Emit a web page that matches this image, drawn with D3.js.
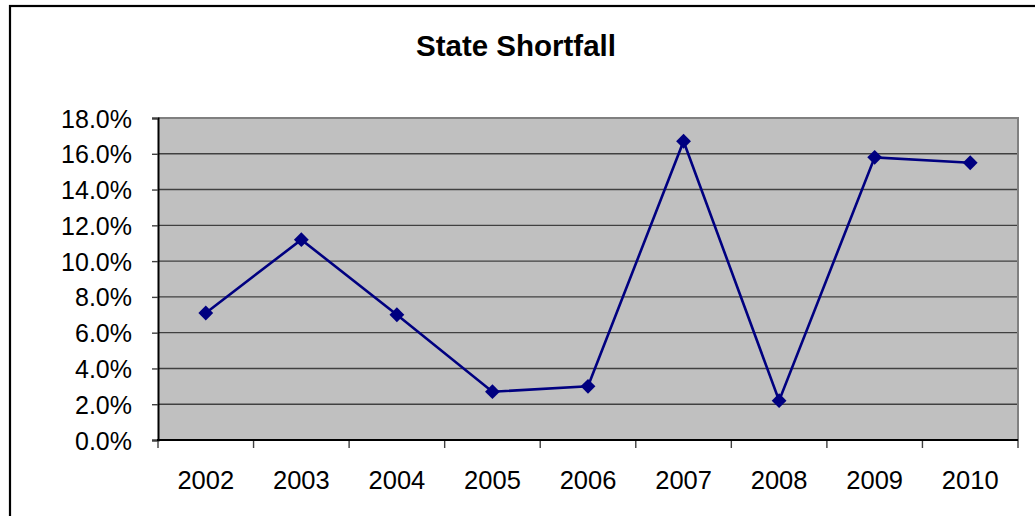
<!DOCTYPE html>
<html>
<head>
<meta charset="utf-8">
<script src="https://cdn.jsdelivr.net/npm/d3@7"></script>
<style>
  html, body { margin: 0; padding: 0; background: #fff; }
  svg { display: block; font-family: "Liberation Sans", Arial, sans-serif; }
</style>
</head>
<body>
<svg id="chart" width="1035" height="516"></svg>
<script>
// data ---
var years = ["2002", "2003", "2004", "2005", "2006", "2007", "2008", "2009", "2010"];
var shortfall = [0.071, 0.112, 0.070, 0.027, 0.030, 0.167, 0.022, 0.158, 0.155];
var yTicks = [0, 0.02, 0.04, 0.06, 0.08, 0.10, 0.12, 0.14, 0.16, 0.18];
var title = "State Shortfall";

var plot = { left: 158, right: 1018, top: 118, bottom: 440 };
var tickFont = 25;

var svg = d3.select("#chart");

// outer chart border (runs off the right/bottom edge like the source)
svg.append("rect")
    .attr("x", 10).attr("y", 6)
    .attr("width", 1060).attr("height", 540)
    .attr("fill", "#fff")
    .attr("stroke", "#000")
    .attr("stroke-width", 2.2);

var x = d3.scaleBand()
    .domain(years)
    .range([plot.left, plot.right])
    .padding(0);

var y = d3.scaleLinear()
    .domain([0, 0.18])
    .range([plot.bottom, plot.top]);

//  Plot area ---
svg.append("rect")
    .attr("x", plot.left).attr("y", plot.top)
    .attr("width", plot.right - plot.left)
    .attr("height", plot.bottom - plot.top)
    .attr("fill", "#c0c0c0");

//  Gridlines ---
svg.append("g")
    .selectAll("line")
    .data(yTicks.filter(function (d) { return d > 0 && d < 0.18; }))
    .enter().append("line")
    .attr("x1", plot.left).attr("x2", plot.right)
    .attr("y1", function (d) { return y(d); })
    .attr("y2", function (d) { return y(d); })
    .attr("stroke", "#404040")
    .attr("stroke-width", 1.4);

// top and right frame ---
svg.append("path")
    .attr("d", "M" + plot.left + "," + plot.top + "H" + plot.right + "V" + plot.bottom)
    .attr("fill", "none")
    .attr("stroke", "#808080")
    .attr("stroke-width", 2);

//  Y axis ---
var yAxis = d3.axisLeft(y)
    .tickValues(yTicks)
    .tickSize(6)
    .tickPadding(20)
    .tickFormat(d3.format(".1%"));
var yg = svg.append("g")
    .attr("transform", "translate(" + plot.left + ",0)")
    .call(yAxis);
yg.select(".domain").attr("stroke", "#000").attr("stroke-width", 2);
yg.selectAll(".tick line").attr("stroke", "#404040").attr("stroke-width", 1.4);
yg.selectAll(".tick text")
    .attr("font-size", tickFont)
    .attr("fill", "#000")
    .attr("font-family", "Liberation Sans, Arial, sans-serif")
    .attr("dy", "0.36em");

//  X axis ---
var xAxis = d3.axisBottom(x).tickSize(0).tickPadding(0);
var xg = svg.append("g")
    .attr("transform", "translate(0," + plot.bottom + ")")
    .call(xAxis);
xg.select(".domain").remove();
xg.selectAll(".tick text")
    .attr("font-size", tickFont + 0.5)
    .attr("fill", "#000")
    .attr("font-family", "Liberation Sans, Arial, sans-serif")
    .attr("dy", null)
    .attr("y", 49);

// category boundary ticks
var bounds = years.map(function (d) { return x(d); }).concat([plot.right]);
svg.append("g")
    .selectAll("line")
    .data(bounds)
    .enter().append("line")
    .attr("x1", function (d) { return d; }).attr("x2", function (d) { return d; })
    .attr("y1", plot.bottom).attr("y2", plot.bottom + 8)
    .attr("stroke", "#404040")
    .attr("stroke-width", 1.4);

svg.append("line")
    .attr("x1", plot.left - 1).attr("x2", plot.right)
    .attr("y1", plot.bottom).attr("y2", plot.bottom)
    .attr("stroke", "#000")
    .attr("stroke-width", 2);

//  Series ---
var points = years.map(function (d, i) { return { year: d, value: shortfall[i] }; });
var line = d3.line()
    .x(function (d) { return x(d.year) + x.bandwidth() / 2; })
    .y(function (d) { return y(d.value); });

svg.append("path")
    .datum(points)
    .attr("d", line)
    .attr("fill", "none")
    .attr("stroke", "#000080")
    .attr("stroke-width", 2.6);

svg.append("g")
    .selectAll("path")
    .data(points)
    .enter().append("path")
    .attr("d", d3.symbol().type(d3.symbolDiamond2).size(140))
    .attr("transform", function (d) {
        return "translate(" + (x(d.year) + x.bandwidth() / 2) + "," + y(d.value) + ")";
    })
    .attr("fill", "#000080");

//  Title ---
svg.append("text")
    .attr("x", 516)
    .attr("y", 56)
    .attr("text-anchor", "middle")
    .attr("font-size", 29.5)
    .attr("font-weight", "bold")
    .attr("fill", "#000")
    .text(title);
</script>
</body>
</html>
